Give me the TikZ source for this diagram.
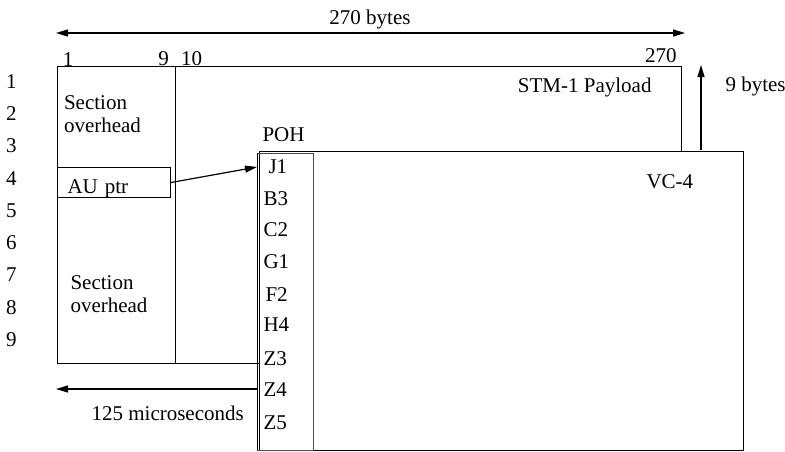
\documentclass[tikz,border=0pt]{standalone}
\usepackage{fontspec}
\setmainfont{Liberation Serif}
\usepackage{tikz}
\usepackage{xcolor}
\definecolor{pohEdge}{HTML}{4A4A4A}
\usetikzlibrary{arrows.meta}

\tikzset{
  spanArrow/.style={line width=0.6pt, -{Triangle[length=6pt,width=3.5pt]}},
  spanBoth/.style={line width=0.6pt, {Triangle[length=6pt,width=3.5pt]}-{Triangle[length=6pt,width=3.5pt]}},
  pohByte/.style={anchor=west, inner xsep=3pt},
  twoLines/.style={anchor=north west, align=left}
}

\begin{document}
\begin{tikzpicture}[x=0.5pt, y=-0.5pt, line width=0.5pt,
  every node/.style={font=\fontsize{10.5}{11.6}\selectfont, inner sep=0pt}]
  \useasboundingbox (0,0) rectangle (785,451);
  \coordinate (wl) at (56,33);
  \coordinate (wr) at (685,33);
  \draw[spanBoth] (wl) -- (wr);
  \node[anchor=base] (width) at (370,24) {270 bytes};
  \node[anchor=base] (c1) at (68,66) {1};
  \node[anchor=base] (c9) at (163.5,65) {9};
  \node[anchor=base] (c10) at (191.5,65) {10};
  \node[anchor=base east] (c270) at (677,62) {270};
  \draw (57,66) rectangle (681,363);
  \draw (175,66) -- (175,363);
  \node (r1) at (11.5,81.5) {1};
  \node (r2) at (11.5,113.75) {2};
  \node (r3) at (11.5,146) {3};
  \node (r4) at (11.5,178.25) {4};
  \node (r5) at (11.5,210.5) {5};
  \node (r6) at (11.5,242.75) {6};
  \node (r7) at (11.5,275) {7};
  \node (r8) at (11.5,307.25) {8};
  \node (r9) at (11.5,339.5) {9};
  \node[twoLines] (rsoh) at (63.5,95) {Section\\overhead};
  \node[twoLines] (msoh) at (70,275) {Section\\overhead};
  \node[draw, anchor=north west, text width=46.5pt, inner xsep=5pt, inner ysep=1pt,
    text height=12pt, text depth=1pt, align=left] (auptr) at (57,167) {AU ptr};
  \node[anchor=base east] (payload) at (652,92) {STM-1 Payload};
  \coordinate (hb) at (701,150);
  \coordinate (ht) at (701,65);
  \draw[spanArrow] (hb) -- (ht);
  \node[anchor=base west] (height) at (725,91.5) {9 bytes};
  \filldraw[fill=white] (259,151) rectangle (743,450);
  \draw[pohEdge] (257,153) rectangle (313,450);
  \draw (257,153) -- (257,450);
  \node[anchor=base west] (poh) at (262,141.7) {POH};
  \node[anchor=base west] (vc4) at (646,188) {VC-4};
  \node[pohByte, inner xsep=5.5pt] (j1) at (257,167) {J1};
  \node[pohByte] (b3) at (257,198.5) {B3};
  \node[pohByte] (c2) at (257,230) {C2};
  \node[pohByte] (g1) at (257,262) {G1};
  \node[pohByte, inner xsep=4pt] (f2) at (257,295) {F2};
  \node[pohByte] (h4) at (257,325) {H4};
  \node[pohByte] (z3) at (257,358.5) {Z3};
  \node[pohByte] (z4) at (257,390) {Z4};
  \node[pohByte] (z5) at (257,423) {Z5};
  \draw[spanArrow] (auptr.east) -- (j1.west);
  \coordinate (ts) at (257,389);
  \coordinate (te) at (56,389);
  \draw[spanArrow] (ts) -- (te);
  \node[anchor=base east] (period) at (244.3,420) {125 microseconds};
\end{tikzpicture}
\end{document}
